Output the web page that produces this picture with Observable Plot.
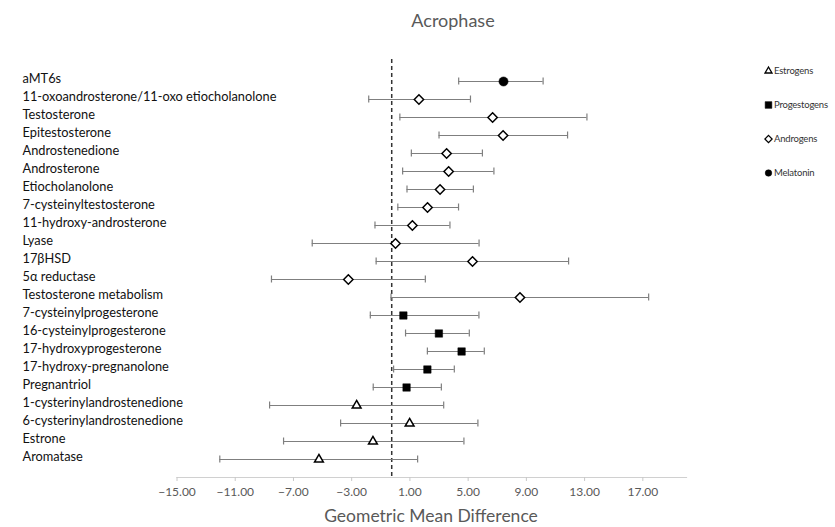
<!DOCTYPE html>
<html>
<head>
<meta charset="utf-8">
<script src="https://cdn.jsdelivr.net/npm/d3@7"></script>
<script src="https://cdn.jsdelivr.net/npm/@observablehq/plot@0.6"></script>
<style>
  html, body { margin: 0; padding: 0; background: #fff; }
  #wrap { position: relative; width: 835px; height: 527px; font-family: Lato, "Open Sans", sans-serif; }
  #title { position: absolute; top: 9px; left: 453px; transform: translateX(-50%); font-size: 18px; color: #595959; white-space: nowrap; }
  #xlabel { position: absolute; top: 505px; left: 431px; transform: translateX(-50%); font-size: 17.5px; color: #595959; white-space: nowrap; }
  #legend { position: absolute; left: 764px; top: 0; width: 70px; font-size: 9.5px; letter-spacing: -0.2px; color: #333; }
  .li { position: absolute; left: 0; display: flex; align-items: center; white-space: nowrap; }
  .li svg { margin-right: 1px; flex: none; }
  #chart { position: absolute; left: 0; top: 0; }
</style>
</head>
<body>
<div id="wrap">
  <div id="chart"></div>
  <div id="title">Acrophase</div>
  <div id="xlabel">Geometric Mean Difference</div>
  <div id="legend"></div>
</div>
<script>
const labels = [
  "aMT6s",
  "11-oxoandrosterone/11-oxo etiocholanolone",
  "Testosterone",
  "Epitestosterone",
  "Androstenedione",
  "Androsterone",
  "Etiocholanolone",
  "7-cysteinyltestosterone",
  "11-hydroxy-androsterone",
  "Lyase",
  "17βHSD",
  "5α reductase",
  "Testosterone metabolism",
  "7-cysteinylprogesterone",
  "16-cysteinylprogesterone",
  "17-hydroxyprogesterone",
  "17-hydroxy-pregnanolone",
  "Pregnantriol",
  "1-cysterinylandrostenedione",
  "6-cysterinylandrostenedione",
  "Estrone",
  "Aromatase"
];
const groups = [
  "Melatonin",
  "Androgens","Androgens","Androgens","Androgens","Androgens","Androgens",
  "Androgens","Androgens","Androgens","Androgens","Androgens","Androgens",
  "Progestogens","Progestogens","Progestogens","Progestogens","Progestogens",
  "Estrogens","Estrogens","Estrogens","Estrogens"
];
const means = [7.43, 1.62, 6.68, 7.40, 3.52, 3.66, 3.07, 2.21, 1.17, 0.01, 5.30, -3.23, 8.56, 0.55, 2.99, 4.55, 2.20, 0.77, -2.66, 0.98, -1.54, -5.25];
const lower = [4.35, -1.83, 0.31, 3.00, 1.10, 0.50, 0.80, 0.17, -1.40, -5.71, -1.32, -8.51, -0.30, -1.72, 0.70, 2.20, -0.12, -1.52, -8.64, -3.76, -7.68, -12.06];
const upper = [10.15, 5.16, 13.16, 11.83, 5.98, 6.77, 5.36, 4.34, 3.75, 5.75, 11.90, 2.06, 17.40, 5.74, 5.08, 6.11, 4.05, 3.16, 3.32, 5.67, 4.71, 1.53];
const xTicks = [-15, -11, -7, -3, 1, 5, 9, 13, 17];
const xDomain = [-15, 20];
const refLine = -0.25;
const legendGroups = ["Estrogens", "Progestogens", "Androgens", "Melatonin"];
const legendSymbols = ["triangle2", "square", "diamond2", "circle"];
const legendFilled = [false, true, false, true];

const data = labels.map((label, i) => ({label, group: groups[i], mean: means[i], lo: lower[i], hi: upper[i]}));
const whisker = "#7f7f7f";

function dotsFor(g, k) {
  const filled = legendFilled[k];
  return Plot.dot(data.filter(d => d.group === g), {
    x: "mean", y: "label",
    symbol: () => legendSymbols[k],
    r: legendSymbols[k] === "circle" ? 4.6 : 4.2,
    fill: filled ? "black" : "white",
    stroke: "black",
    strokeWidth: filled ? 0.5 : 1.5
  });
}

const chart = Plot.plot({
  width: 835,
  height: 527,
  marginTop: 72,
  marginBottom: 50,
  marginLeft: 176.5,
  marginRight: 149,
  style: {fontFamily: "Lato, 'Open Sans', sans-serif", fontSize: "12.5px", background: "white"},
  x: {domain: xDomain, label: null},
  y: {type: "band", domain: labels, padding: 0, insetBottom: 9, label: null},
  symbol: {domain: legendSymbols, range: legendSymbols, type: "identity"},
  marks: [
    Plot.frame({anchor: "bottom", stroke: "#d0d0d0", strokeWidth: 1.2}),
    Plot.axisX({ticks: xTicks, tickFormat: d3.format(".2f"), tickSize: 4, tickPadding: 6, stroke: "#c8c8c8", fill: "#595959", fontSize: 12, label: null}),
    Plot.axisY({tickSize: 0, tickPadding: 0, textAnchor: "start", dx: 22 - 176.5, dy: -3, fill: "#111", fontSize: 12.8, label: null}),
    Plot.ruleX([refLine], {stroke: "#333", strokeWidth: 1.5, strokeDasharray: "4,3", insetTop: -13}),
    Plot.ruleY(data, {y: "label", x1: "lo", x2: "hi", stroke: whisker, strokeWidth: 1.2}),
    Plot.tickX(data, {x: "lo", y: "label", stroke: whisker, strokeWidth: 1.2, insetTop: 5.5, insetBottom: 5.5}),
    Plot.tickX(data, {x: "hi", y: "label", stroke: whisker, strokeWidth: 1.2, insetTop: 5.5, insetBottom: 5.5}),
    ...legendGroups.map((g, k) => dotsFor(g, k))
  ]
});
document.getElementById("chart").appendChild(chart);

// Legend
const legendY = [70, 104, 138, 172];
const legend = d3.select("#legend");
legendGroups.forEach((g, k) => {
  const item = legend.append("div").attr("class", "li").style("top", (legendY[k] - 7) + "px");
  const svg = item.append("svg").attr("width", 9).attr("height", 14);
  const sym = d3.symbol().type({
    triangle2: d3.symbolTriangle2, square: d3.symbolSquare, diamond2: d3.symbolDiamond2, circle: d3.symbolCircle
  }[legendSymbols[k]]).size(legendSymbols[k] === "square" ? 45 : 34);
  svg.append("path").attr("d", sym()).attr("transform", "translate(4.5,8)")
    .attr("fill", legendFilled[k] ? "black" : "white").attr("stroke", "black").attr("stroke-width", legendFilled[k] ? 0.5 : 1.3);
  item.append("span").text(g);
});
</script>
</body>
</html>
